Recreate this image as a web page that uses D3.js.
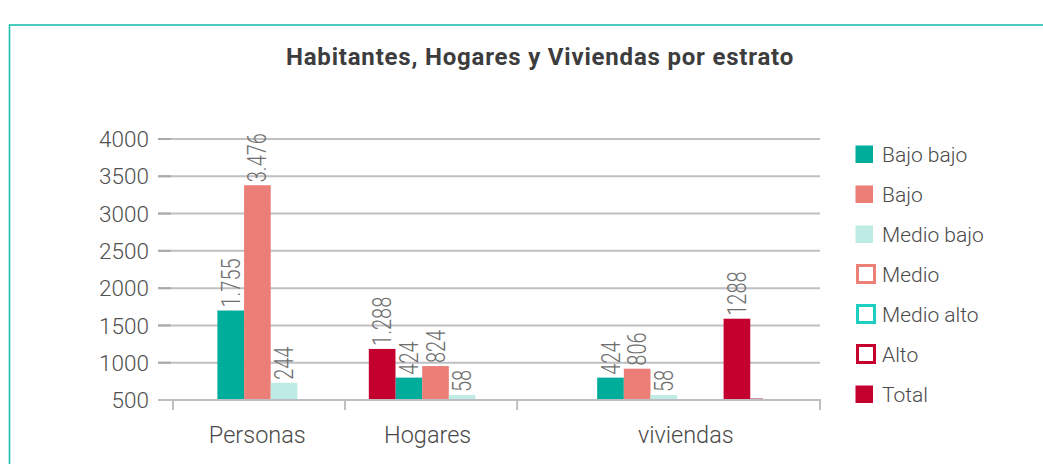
<!DOCTYPE html>
<html>
<head>
<meta charset="utf-8">
<script src="https://cdn.jsdelivr.net/npm/d3@7"></script>
<style>
  body { margin: 0; background: #fff; }
  text { font-family: Roboto, "Open Sans", sans-serif; }
</style>
</head>
<body>
<div id="chart"></div>
<script>
// datos
var categories = ['Personas', 'Hogares', 'viviendas']
var seriesNames = ['Bajo bajo', 'Bajo', 'Medio bajo', 'Medio', 'Medio alto', 'Alto', 'Total']
var bajoBajo = [1700, 800, 800]
var bajo = [3380, 955, 920]
var medioBajo = [730, 567, 567]
var medio = [null, null, null]
var medioAlto = [null, null, null]
var alto = [null, null, 520]
var total = [null, 1185, 1590]
var bajoBajoLabels = ['1.755', '424', '424']
var bajoLabels = ['3.476', '824', '806']
var medioBajoLabels = ['244', '58', '58']
var totalLabels = [null, '1.288', '1288']
var yTicks = [500, 1000, 1500, 2000, 2500, 3000, 3500, 4000]

var seriesValues = {
	'Bajo bajo': bajoBajo, 'Bajo': bajo, 'Medio bajo': medioBajo, 'Medio': medio,
	'Medio alto': medioAlto, 'Alto': alto, 'Total': total
}
var seriesLabels = {
	'Bajo bajo': bajoBajoLabels, 'Bajo': bajoLabels, 'Medio bajo': medioBajoLabels, 'Total': totalLabels
}

// colores y disposicion
var colors = {
	'Bajo bajo': '#00ad9a', 'Bajo': '#eb7f78', 'Medio bajo': '#beebe3', 'Medio': '#ec8078',
	'Medio alto': '#1ccfc0', 'Alto': '#c5002f', 'Total': '#c4002f'
}
var outlined = ['Medio', 'Medio alto', 'Alto']
var catEdges = [0, 1, 2, 3.76]
var barUnit = 0.155
var layout = {
	'Personas': {start: 0.258, label: 0.49, slots: {'Bajo bajo': 0, 'Bajo': 1, 'Medio bajo': 2}},
	'Hogares': {start: 0.138, label: 1.48, slots: {'Total': 0, 'Bajo bajo': 1, 'Bajo': 2, 'Medio bajo': 3}},
	'viviendas': {start: 0.465, label: 2.98, slots: {'Bajo bajo': 0, 'Bajo': 1, 'Medio bajo': 2, 'Total': 4.74, 'Alto': 5.74}}
}

var W = 1043, H = 464

var svg = d3.select('#chart').append('svg')
	.attr('width', W)
	.attr('height', H)

// marco
svg.append('rect')
	.attr('x', 9.5).attr('y', 25)
	.attr('width', W + 50).attr('height', H + 50)
	.attr('fill', 'none')
	.attr('stroke', '#1fbfae')
	.attr('stroke-width', 1.6)

svg.append('text')
	.attr('x', 540).attr('y', 65)
	.attr('text-anchor', 'middle')
	.attr('font-size', 24)
	.attr('font-weight', 700)
	.attr('letter-spacing', 0.8)
	.attr('fill', '#3d3d3d')
	.text('Habitantes, Hogares y Viviendas por estrato')

var x = d3.scaleLinear().domain([0, catEdges[catEdges.length - 1]]).range([173, 820])
var y = d3.scaleLinear().domain([500, 4000]).range([400, 139])
var barW = x(barUnit) - x(0)

// rejilla
var grid = svg.append('g')
grid.selectAll('line.g')
	.data(yTicks)
	.join('line')
	.attr('class', 'g')
	.attr('x1', 158).attr('x2', 820)
	.attr('y1', function(d) { return y(d) })
	.attr('y2', function(d) { return y(d) })
	.attr('stroke', '#bfbfc4')
	.attr('stroke-width', 2)
grid.selectAll('line.t')
	.data(yTicks)
	.join('line')
	.attr('class', 't')
	.attr('x1', 158).attr('x2', 171)
	.attr('y1', function(d) { return y(d) })
	.attr('y2', function(d) { return y(d) })
	.attr('stroke', '#a9a9ae')
	.attr('stroke-width', 2)

svg.append('g').selectAll('text')
	.data(yTicks)
	.join('text')
	.attr('x', 149)
	.attr('y', function(d) { return y(d) })
	.attr('dy', '0.36em')
	.attr('text-anchor', 'end')
	.attr('font-size', 22.5)
	.attr('font-weight', 300)
	.attr('fill', '#505050')
	.text(function(d) { return d })

// barras
var bars = []
categories.forEach(function(cat, i) {
	var l = layout[cat]
	seriesNames.forEach(function(s) {
		var v = seriesValues[s][i]
		if (v == null || l.slots[s] == null) return
		var labs = seriesLabels[s]
		bars.push({
			cat: cat, series: s, value: v,
			label: labs ? labs[i] : null,
			x0: x(catEdges[i] + l.start + l.slots[s] * barUnit),
			w: s === 'Alto' ? barW * 0.48 : barW
		})
	})
})

svg.append('g').selectAll('rect')
	.data(bars)
	.join('rect')
	.attr('x', function(d) { return d.x0 })
	.attr('y', function(d) { return y(d.value) })
	.attr('width', function(d) { return d.w })
	.attr('height', function(d) { return y(500) - y(d.value) })
	.attr('fill', function(d) { return d.series === 'Alto' ? '#a0304a' : colors[d.series] })

svg.append('g').selectAll('text')
	.data(bars.filter(function(d) { return d.label }))
	.join('text')
	.attr('transform', function(d) {
		return 'translate(' + (d.x0 + d.w / 2) + ',' + (y(d.value) - 3) + ') rotate(-90) scale(0.8,1)'
	})
	.attr('dy', '0.36em')
	.attr('font-size', 25)
	.attr('font-weight', 300)
	.attr('fill', '#6e6e6e')
	.text(function(d) { return d.label })

// eje x
var axis = svg.append('g')
axis.append('line')
	.attr('x1', 158).attr('x2', 821)
	.attr('y1', y(500)).attr('y2', y(500))
	.attr('stroke', '#bdbdc2')
	.attr('stroke-width', 2)
axis.selectAll('line.tick')
	.data(catEdges)
	.join('line')
	.attr('class', 'tick')
	.attr('x1', function(d) { return x(d) })
	.attr('x2', function(d) { return x(d) })
	.attr('y1', y(500)).attr('y2', y(500) + 10)
	.attr('stroke', '#bdbdc2')
	.attr('stroke-width', 2)
axis.selectAll('text')
	.data(categories)
	.join('text')
	.attr('x', function(d) { return x(layout[d].label) })
	.attr('y', 443)
	.attr('text-anchor', 'middle')
	.attr('font-size', 23.5)
	.attr('font-weight', 300)
	.attr('fill', '#4a4a4a')
	.text(function(d) { return d })

// leyenda
var ly = d3.scalePoint().domain(seriesNames).range([154, 394])
var legend = svg.append('g').selectAll('g')
	.data(seriesNames)
	.join('g')
	.attr('transform', function(d) { return 'translate(0,' + ly(d) + ')' })

legend.append('rect')
	.attr('x', function(d) { return outlined.indexOf(d) >= 0 ? 857.5 : 855.5 })
	.attr('y', -8.5)
	.attr('width', function(d) { return outlined.indexOf(d) >= 0 ? 17 : 17.5 })
	.attr('height', function(d) { return outlined.indexOf(d) >= 0 ? 17 : 17.5 })
	.attr('fill', function(d) { return outlined.indexOf(d) >= 0 ? '#fff' : colors[d] })
	.attr('stroke', function(d) { return outlined.indexOf(d) >= 0 ? colors[d] : 'none' })
	.attr('stroke-width', 3)

legend.append('text')
	.attr('x', 882)
	.attr('dy', '0.36em')
	.attr('font-size', 21)
	.attr('font-weight', 300)
	.attr('fill', '#4a4a4a')
	.text(function(d) { return d })
</script>
</body>
</html>
